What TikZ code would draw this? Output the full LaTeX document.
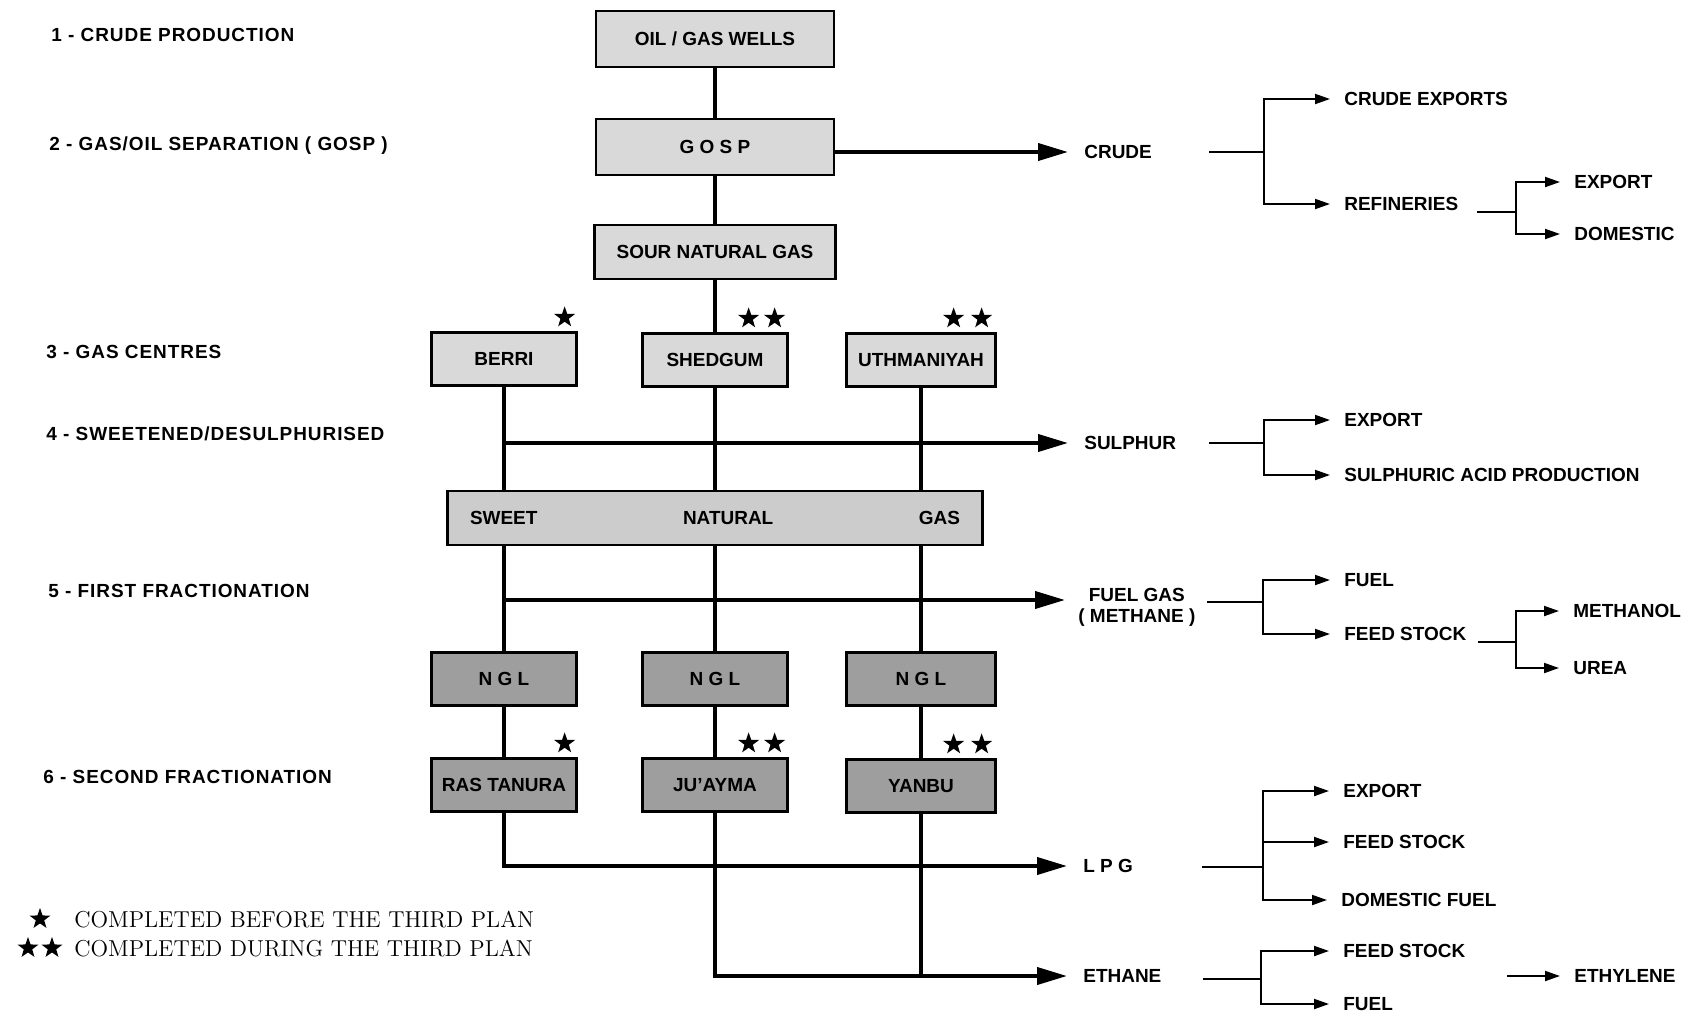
\documentclass[tikz,border=0pt]{standalone}
\usepackage{fontspec}
\setsansfont{Liberation Sans}
\newfontfamily\stagefont{Liberation Sans}[LetterSpace=5]
\usepackage{tikz}
\usetikzlibrary{positioning,arrows.meta,shapes.geometric}

\begin{document}
\begin{tikzpicture}[
  plantBox/.style={draw, line width=1.3pt, fill=black!15, inner sep=0pt,
                   minimum width=2.9cm, minimum height=1.06cm,
                   font=\sffamily\bfseries\fontsize{10.8}{12}\selectfont},
  darkBox/.style={plantBox, fill=black!38},
  stepText/.style={anchor=west, inner sep=0pt,
                   font=\sffamily\bfseries\fontsize{10.8}{12}\selectfont},
  stageText/.style={anchor=west, inner sep=0pt,
                    font=\stagefont\bfseries\fontsize{10.8}{12}\selectfont},
  legendText/.style={anchor=west, inner sep=0pt,
                     font=\rmfamily\fontsize{13.1}{15}\selectfont},
  plantStar/.style={star, star points=5, star point ratio=2.5, fill=black,
                    inner sep=0pt, minimum size=0.44cm},
  flowLine/.style={line width=1.8pt},
  mainArrow/.style={line width=2.2pt, shorten >=0.32cm,
                    -{Triangle[length=0.6cm,width=0.34cm]}},
  branch/.style={line width=1.1pt},
  branchArrow/.style={line width=1.1pt, shorten >=0.28cm,
                      -{Triangle[length=0.3cm,width=0.2cm]}}
]
  \useasboundingbox (0,0) rectangle (34,-20.34);

  % === Stages ===
  \node[stageText] (step1) at (1.02,-0.70) {1 - CRUDE PRODUCTION};
  \node[stageText] (step2) at (0.98,-2.92) {2 - GAS/OIL SEPARATION ( GOSP )};
  \node[stageText] (step3) at (0.92,-7.04) {3 - GAS CENTRES};
  \node[stageText] (step4) at (0.92,-8.68) {4 - SWEETENED/DESULPHURISED};
  \node[stageText] (step5) at (0.96,-11.82) {5 - FIRST FRACTIONATION};
  \node[stageText] (step6) at (0.86,-15.54) {6 - SECOND FRACTIONATION};

  % === Plant boxes ===
  \node[plantBox, minimum width=4.76cm, minimum height=1.12cm] (wells)
    at (14.3,-0.78) {OIL / GAS WELLS};
  \node[plantBox, minimum width=4.76cm, minimum height=1.12cm] (gosp)
    at (14.3,-2.94) {G O S P};
  \node[plantBox, minimum width=4.82cm, minimum height=1.08cm] (sour)
    at (14.3,-5.04) {SOUR NATURAL GAS};

  \node[plantBox] (berri) at (10.08,-7.18) {BERRI};
  \node[plantBox] (shedgum) at (14.3,-7.2) {SHEDGUM};
  \node[plantBox, minimum width=2.98cm] (uthman) at (18.42,-7.2) {UTHMANIYAH};

  \node[plantBox, fill=black!20, text width=9.8cm, inner xsep=0.45cm,
        minimum height=1.08cm] (sweet) at (14.3,-10.36)
    {SWEET\hfill NATURAL\hfill GAS};

  \node[darkBox] (ngl1) at (10.08,-13.58) {N G L};
  \node[darkBox] (ngl2) at (14.3,-13.58) {N G L};
  \node[darkBox, minimum width=2.98cm] (ngl3) at (18.42,-13.58) {N G L};

  \node[darkBox] (rast) at (10.08,-15.70) {RAS TANURA};
  \node[darkBox] (juay) at (14.3,-15.70) {JU'AYMA};
  \node[darkBox, minimum width=2.98cm] (yanbu) at (18.42,-15.72) {YANBU};

  % Stars
  \node[plantStar] (berriS) at ([shift={(-0.26,0.28)}]berri.north east) {};
  \node[plantStar] (shedgumS1) at ([shift={(-0.80,0.28)}]shedgum.north east) {};
  \node[plantStar] (shedgumS2) at ([shift={(-0.28,0.28)}]shedgum.north east) {};
  \node[plantStar] (uthmanS1) at ([shift={(-0.86,0.28)}]uthman.north east) {};
  \node[plantStar] (uthmanS2) at ([shift={(-0.30,0.28)}]uthman.north east) {};
  \node[plantStar] (rastS) at ([shift={(-0.26,0.28)}]rast.north east) {};
  \node[plantStar] (juayS1) at ([shift={(-0.80,0.28)}]juay.north east) {};
  \node[plantStar] (juayS2) at ([shift={(-0.28,0.28)}]juay.north east) {};
  \node[plantStar] (yanbuS1) at ([shift={(-0.86,0.28)}]yanbu.north east) {};
  \node[plantStar] (yanbuS2) at ([shift={(-0.30,0.28)}]yanbu.north east) {};

  % === Products ===
  \node[stepText] (crude) at (21.68,-3.04) {CRUDE};
  \node[stepText] (sulphur) at (21.68,-8.86) {SULPHUR};
  \node[stepText, align=center] (fuelgas) at (21.56,-12.14)
    {FUEL GAS\\( METHANE )};
  \node[stepText] (lpg) at (21.66,-17.32) {L P G};
  \node[stepText] (ethane) at (21.66,-19.52) {ETHANE};
  \coordinate (fuelIn) at ([yshift=0.14cm]fuelgas.west);

  % === Flow lines ===
  \draw[flowLine] (wells) -- (gosp);
  \draw[flowLine] (gosp) -- (sour);
  \draw[flowLine] (sour) -- (shedgum);
  \draw[flowLine] (shedgum) -- (sweet);
  \draw[flowLine] (berri) -- (berri |- sweet.north);
  \draw[flowLine] (uthman) -- (uthman |- sweet.north);
  \draw[flowLine] (ngl1 |- sweet.south) -- (ngl1);
  \draw[flowLine] (ngl2 |- sweet.south) -- (ngl2);
  \draw[flowLine] (ngl3 |- sweet.south) -- (ngl3);
  \draw[flowLine] (ngl1) -- (rast);
  \draw[flowLine] (ngl2) -- (juay);
  \draw[flowLine] (ngl3) -- (yanbu);
  \draw[flowLine] (yanbu) -- (yanbu |- ethane);

  \draw[mainArrow] (gosp.east |- crude) -- (crude);
  \draw[mainArrow] (berri |- sulphur) -- (sulphur);
  \draw[mainArrow, shorten >=0.26cm] (ngl1 |- fuelIn) -- (fuelIn);
  \draw[mainArrow] (rast) |- (lpg);
  \draw[mainArrow] (juay) |- (ethane);

  % === Crude branches ===
  \node[stepText] (crudeExp) at (26.88,-1.98) {CRUDE EXPORTS};
  \node[stepText] (refin) at (26.88,-4.08) {REFINERIES};
  \node[stepText] (refExp) at (31.48,-3.64) {EXPORT};
  \node[stepText] (refDom) at (31.48,-4.68) {DOMESTIC};
  \coordinate (crudeS) at (24.18,-3.04);
  \coordinate (crudeF) at (25.28,-3.04);
  \coordinate (refinS) at (29.54,-4.24);
  \coordinate (refinF) at (30.32,-4.24);
  \draw[branch] (crudeS) -- (crudeF);
  \draw[branchArrow] (crudeF) |- (crudeExp);
  \draw[branchArrow] (crudeF) |- (refin);
  \draw[branch] (refinS) -- (refinF);
  \draw[branchArrow] (refinF) |- (refExp);
  \draw[branchArrow] (refinF) |- (refDom);

  % === Sulphur branches ===
  \node[stepText] (sulExp) at (26.88,-8.40) {EXPORT};
  \node[stepText] (sulAcid) at (26.88,-9.50) {SULPHURIC ACID PRODUCTION};
  \coordinate (sulS) at (24.18,-8.86);
  \coordinate (sulF) at (25.28,-8.86);
  \draw[branch] (sulS) -- (sulF);
  \draw[branchArrow] (sulF) |- (sulExp);
  \draw[branchArrow] (sulF) |- (sulAcid);

  % === Fuel gas branches ===
  \node[stepText] (fuelUse) at (26.88,-11.60) {FUEL};
  \node[stepText] (fuelFeed) at (26.88,-12.68) {FEED STOCK};
  \node[stepText] (methanol) at (31.46,-12.22) {METHANOL};
  \node[stepText] (urea) at (31.46,-13.36) {UREA};
  \coordinate (fuelS) at (24.14,-12.04);
  \coordinate (fuelF) at (25.26,-12.04);
  \coordinate (feedS) at (29.56,-12.84);
  \coordinate (feedF) at (30.32,-12.84);
  \draw[branch] (fuelS) -- (fuelF);
  \draw[branchArrow] (fuelF) |- (fuelUse);
  \draw[branchArrow] (fuelF) |- (fuelFeed);
  \draw[branch] (feedS) -- (feedF);
  \draw[branchArrow] (feedF) |- (methanol);
  \draw[branchArrow] (feedF) |- (urea);

  % === LPG branches ===
  \node[stepText] (lpgExp) at (26.86,-15.82) {EXPORT};
  \node[stepText] (lpgFeed) at (26.86,-16.84) {FEED STOCK};
  \node[stepText] (lpgDom) at (26.82,-18.00) {DOMESTIC FUEL};
  \coordinate (lpgS) at (24.04,-17.34);
  \coordinate (lpgF) at (25.26,-17.34);
  \draw[branch] (lpgS) -- (lpgF);
  \draw[branchArrow] (lpgF) |- (lpgExp);
  \draw[branchArrow] (lpgF) |- (lpgFeed);
  \draw[branchArrow] (lpgF) |- (lpgDom);

  % === Ethane branches ===
  \node[stepText] (ethFeed) at (26.86,-19.02) {FEED STOCK};
  \node[stepText] (ethFuel) at (26.86,-20.08) {FUEL};
  \node[stepText] (ethylene) at (31.48,-19.52) {ETHYLENE};
  \coordinate (ethS) at (24.06,-19.58);
  \coordinate (ethF) at (25.22,-19.58);
  \coordinate (ethyS) at (30.14,-19.52);
  \draw[branch] (ethS) -- (ethF);
  \draw[branchArrow] (ethF) |- (ethFeed);
  \draw[branchArrow] (ethF) |- (ethFuel);
  \draw[branchArrow] (ethyS) -- (ethylene);

  % === Legend ===
  \node[legendText] (legBefore) at (1.48,-18.40) {COMPLETED BEFORE THE THIRD PLAN};
  \node[legendText] (legDuring) at (1.48,-18.98) {COMPLETED DURING THE THIRD PLAN};
  \node[plantStar] (legS) at (0.80,-18.38) {};
  \node[plantStar] (legS1) at (0.56,-18.96) {};
  \node[plantStar] (legS2) at (1.04,-18.96) {};
\end{tikzpicture}
\end{document}
